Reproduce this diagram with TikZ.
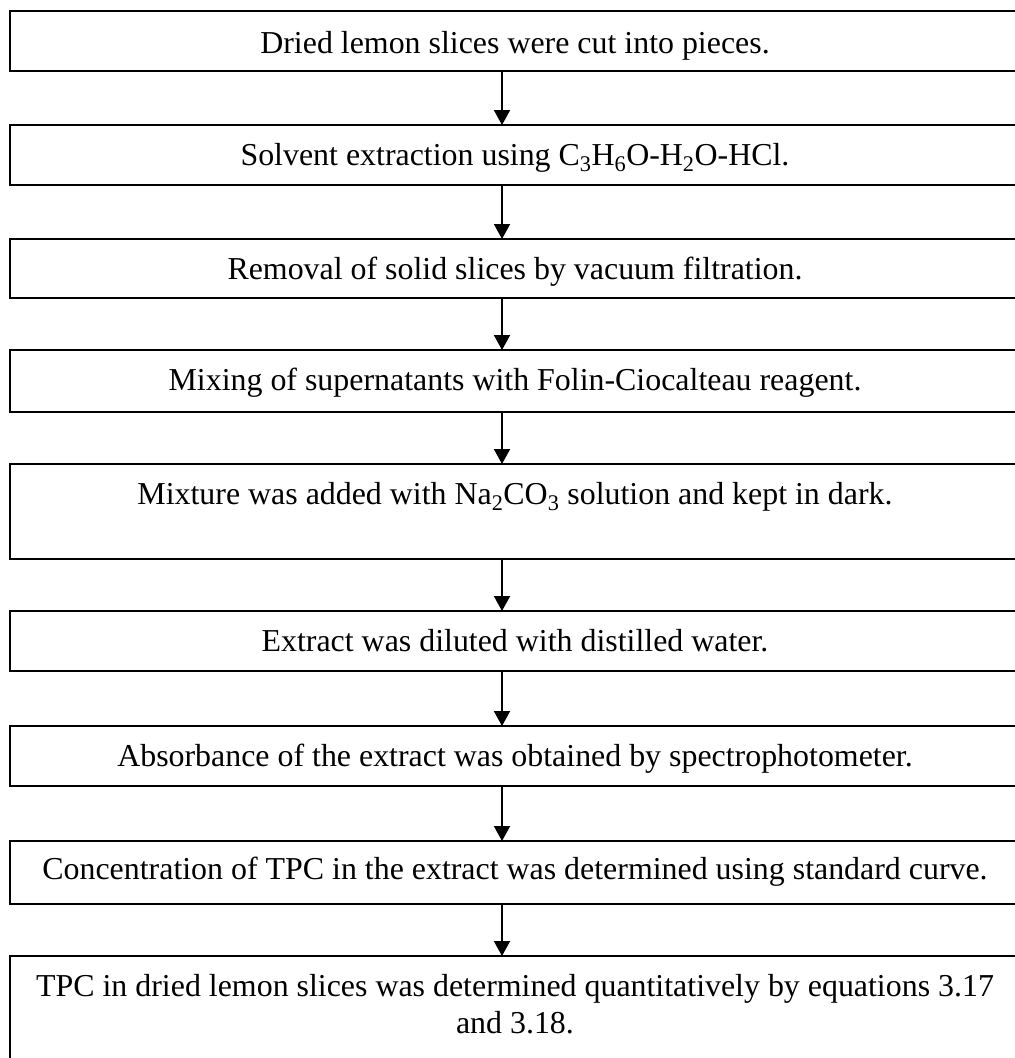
\documentclass[tikz,border=0pt]{standalone}
\usepackage{fontspec}
\setmainfont{Liberation Serif}
\usetikzlibrary{arrows.meta}
\begin{document}
\begin{tikzpicture}[x=1pt,y=-1pt,
  stepbox/.style={draw=black,line width=1.8pt,minimum width=1012pt,inner sep=0pt,outer sep=0pt,anchor=north west},
  lbl/.style={anchor=base,inner sep=0pt,font=\fontsize{31.9}{36.7}\selectfont,align=center},
  flow/.style={line width=2pt,-{Triangle[width=16pt,length=15pt]}}]
\clip (0,0) rectangle (1015,1058);
\fill[white] (0,0) rectangle (1015,1058);
% boxes
\node[stepbox,minimum height=60pt] (b1) at (10,11) {};
\node[stepbox,minimum height=60pt] (b2) at (10,125) {};
\node[stepbox,minimum height=59pt] (b3) at (10,239) {};
\node[stepbox,minimum height=62pt] (b4) at (10,350) {};
\node[stepbox,minimum height=95pt] (b5) at (10,464) {};
\node[stepbox,minimum height=60pt] (b6) at (10,611) {};
\node[stepbox,minimum height=60pt] (b7) at (10,726) {};
\node[stepbox,minimum height=63pt] (b8) at (10,841) {};
\node[stepbox,minimum height=120pt] (b9) at (10,956) {};
% texts
\node[lbl] (t1) at (515,53) {Dried lemon slices were cut into pieces.};
\node[lbl] (t2) at (515,165) {Solvent extraction using C\textsubscript{3}H\textsubscript{6}O-H\textsubscript{2}O-HCl.};
\node[lbl] (t3) at (515,279) {Removal of solid slices by vacuum filtration.};
\node[lbl] (t4) at (515,390) {Mixing of supernatants with Folin-Ciocalteau reagent.};
\node[lbl] (t5) at (515,504) {Mixture was added with Na\textsubscript{2}CO\textsubscript{3} solution and kept in dark.};
\node[lbl] (t6) at (515,651) {Extract was diluted with distilled water.};
\node[lbl] (t7) at (515,766) {Absorbance of the extract was obtained by spectrophotometer.};
\node[lbl] (t8) at (515,879) {Concentration of TPC in the extract was determined using standard curve.};
\node[lbl,anchor=north] (t9) at (515,974) {TPC in dried lemon slices was determined quantitatively by equations 3.17\\and 3.18.};
% arrows
\coordinate (ax) at (502,0);
\foreach \a/\b in {b1/b2,b2/b3,b3/b4,b4/b5,b5/b6,b6/b7,b7/b8,b8/b9}{
  \draw[flow] (\a.south -| ax) -- (\b.north -| ax);
}
\end{tikzpicture}
\end{document}
